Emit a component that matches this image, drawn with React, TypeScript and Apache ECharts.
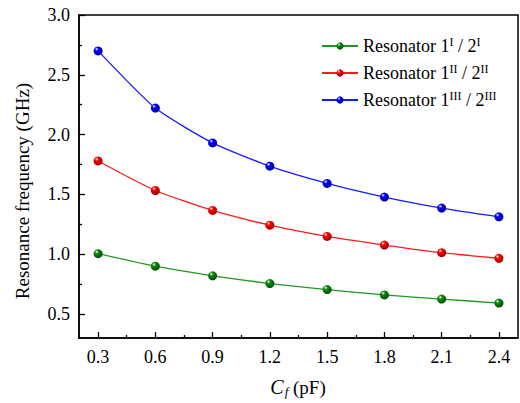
import React, { useEffect, useRef } from "react";
import * as echarts from "echarts";

const cfValues = [0.3, 0.6, 0.9, 1.2, 1.5, 1.8, 2.1, 2.4];
const resonatorI = [1.005, 0.9, 0.82, 0.755, 0.705, 0.66, 0.625, 0.592];
const resonatorII = [1.78, 1.533, 1.366, 1.243, 1.149, 1.077, 1.013, 0.966];
const resonatorIII = [2.7, 2.222, 1.931, 1.736, 1.592, 1.478, 1.386, 1.313];
const xMajorTicks = [0.3, 0.6, 0.9, 1.2, 1.5, 1.8, 2.1, 2.4];
const xMinorTicks = [0.45, 0.75, 1.05, 1.35, 1.65, 1.95, 2.25];
const yMajorTicks = [0.5, 1.0, 1.5, 2.0, 2.5, 3.0];
const yMinorTicks = [0.75, 1.25, 1.75, 2.25, 2.75];
const seriesNames = ["Resonator 1I / 2I", "Resonator 1II / 2II", "Resonator 1III / 2III"];
const romans = ["I", "II", "III"];

const FONT = "Liberation Serif";

function ball(c: string, dark: string) {
  return new echarts.graphic.RadialGradient(0.35, 0.3, 0.7, [
    { offset: 0, color: "#ffffff" },
    { offset: 0.3, color: c },
    { offset: 1, color: dark },
  ]);
}

export default function App() {
  const ref = useRef<HTMLDivElement>(null);
  useEffect(() => {
    if (!ref.current) return;
    const chart = echarts.init(ref.current, undefined, { renderer: "svg" });
    const datasets = [resonatorI, resonatorII, resonatorIII];
    const lineColors = ["#1f9a1f", "#ff1a1a", "#1a1aff"];
    const baseColors = ["#108a10", "#ff0000", "#0000ff"];
    const darkColors = ["#005000", "#a00000", "#0000a0"];
    const series = datasets.map((d, i) => ({
      name: seriesNames[i],
      type: "line",
      smooth: 0.2,
      data: cfValues.map((x, j) => [x, d[j]]),
      symbol: "circle",
      symbolSize: 9,
      lineStyle: { color: lineColors[i], width: 1.3 },
      itemStyle: { color: ball(baseColors[i], darkColors[i]), borderWidth: 0 },
      xAxisIndex: 0,
      yAxisIndex: 0,
    }));
    const axisLabelStyle = { fontFamily: FONT, fontSize: 18, color: "#000" };
    chart.setOption({
      animation: false,
      textStyle: { fontFamily: FONT },
      grid: {
        left: 79,
        right: 2,
        top: 15,
        bottom: 65,
        show: true,
        borderColor: "#000",
        borderWidth: 1.5,
      },
      legend: {
        orient: "vertical",
        left: 316,
        top: 31,
        itemWidth: 36,
        itemHeight: 9,
        itemGap: 8,
        data: seriesNames,
        formatter: (name: string) => {
          const i = seriesNames.indexOf(name);
          const r = romans[i];
          return `{a|Resonator 1}{s|${r}}{a| / 2}{s|${r}}`;
        },
        textStyle: {
          fontFamily: FONT,
          fontSize: 18,
          color: "#000",
          rich: {
            a: { fontFamily: FONT, fontSize: 18, color: "#000", lineHeight: 20 },
            s: { fontFamily: FONT, fontSize: 12, color: "#000", verticalAlign: "top", lineHeight: 13 },
          },
        },
      },
      xAxis: [
        {
          type: "value",
          min: 0.2,
          max: 2.5,
          position: "bottom",
          axisLine: { show: true, onZero: false, lineStyle: { color: "#000", width: 1.5 } },
          axisTick: { show: true, inside: true, length: 6, customValues: xMajorTicks, lineStyle: { color: "#000", width: 1.3 } },
          axisLabel: { show: true, margin: 10, customValues: xMajorTicks, formatter: (v: number) => v.toFixed(1), ...axisLabelStyle },
          splitLine: { show: false },
        },
        {
          type: "value",
          min: 0.2,
          max: 2.5,
          position: "bottom",
          axisLine: { show: false, onZero: false },
          axisTick: { show: true, inside: true, length: 3, customValues: xMinorTicks, lineStyle: { color: "#000", width: 1.3 } },
          axisLabel: { show: false, customValues: xMinorTicks },
          splitLine: { show: false },
        },
      ],
      yAxis: [
        {
          type: "value",
          min: 0.3,
          max: 3.0,
          position: "left",
          axisLine: { show: true, onZero: false, lineStyle: { color: "#000", width: 1.5 } },
          axisTick: { show: true, inside: true, length: 6, customValues: yMajorTicks, lineStyle: { color: "#000", width: 1.3 } },
          axisLabel: { show: true, margin: 9, customValues: yMajorTicks, formatter: (v: number) => v.toFixed(1), ...axisLabelStyle },
          splitLine: { show: false },
        },
        {
          type: "value",
          min: 0.3,
          max: 3.0,
          position: "left",
          axisLine: { show: false, onZero: false },
          axisTick: { show: true, inside: true, length: 3, customValues: yMinorTicks, lineStyle: { color: "#000", width: 1.3 } },
          axisLabel: { show: false, customValues: yMinorTicks },
          splitLine: { show: false },
        },
      ],
      graphic: [
        {
          type: "text",
          x: 22,
          y: 191,
          rotation: Math.PI / 2,
          style: {
            text: "Resonance frequency (GHz)",
            fontFamily: FONT,
            fontSize: 19,
            fill: "#000",
            textAlign: "center",
            textVerticalAlign: "middle",
          },
        },
        {
          type: "text",
          x: 298,
          y: 387,
          style: {
            text: "{i|C}{sub|f}{n| (pF)}",
            fontFamily: FONT,
            fontSize: 19,
            fill: "#000",
            textAlign: "center",
            textVerticalAlign: "middle",
            rich: {
              i: { fontFamily: FONT, fontSize: 20, fontStyle: "italic", fill: "#000" },
              sub: { fontFamily: FONT, fontSize: 13, fontStyle: "italic", fill: "#000", verticalAlign: "bottom", padding: [9, 0, 0, 1] },
              n: { fontFamily: FONT, fontSize: 19, fill: "#000" },
            },
          },
        },
      ],
      series,
    });
    return () => chart.dispose();
  }, []);
  return <div ref={ref} style={{ width: 520, height: 403, position: "absolute", left: 0, top: 0 }} />;
}
